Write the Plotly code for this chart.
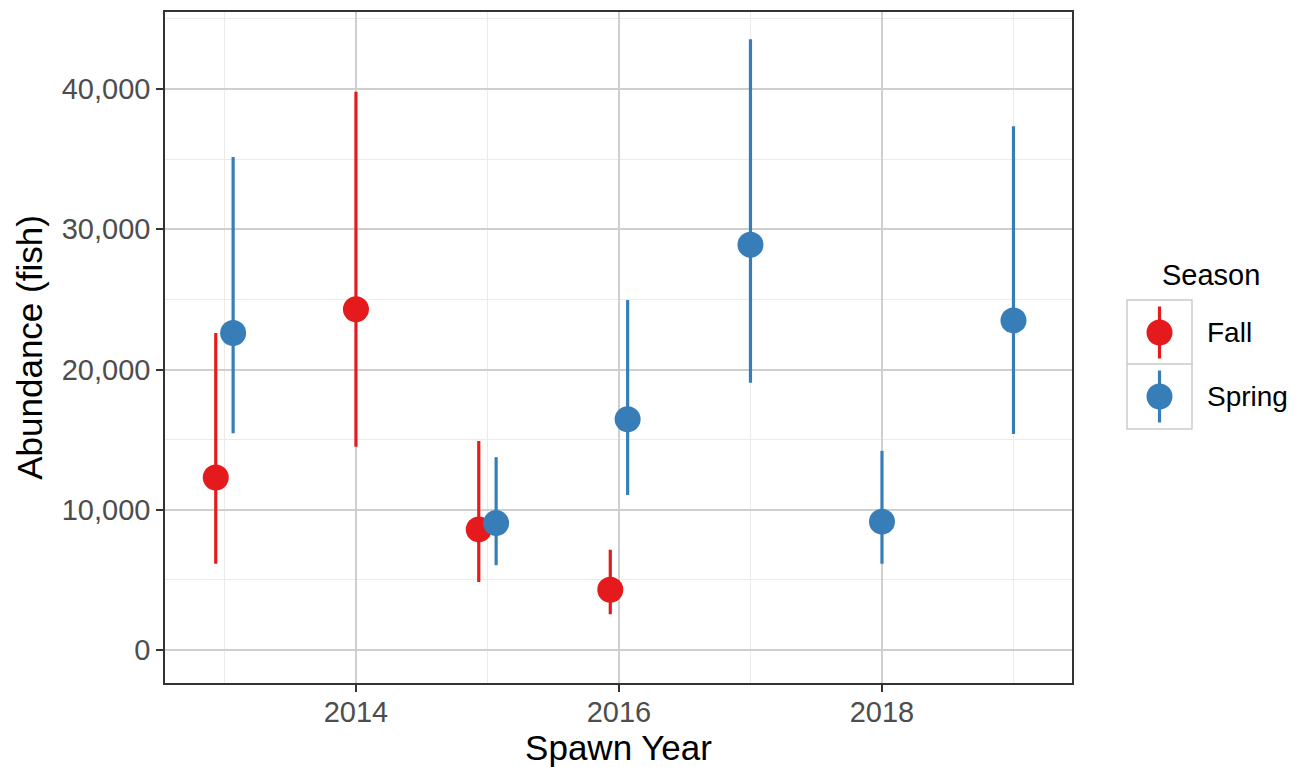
import plotly.graph_objects as go

# ---- data ----
fall_years = [2013, 2014, 2015, 2016]
fall_est = [12300, 24300, 8600, 4300]
fall_lo = [6150, 14500, 4850, 2550]
fall_hi = [22600, 39800, 14900, 7150]

spring_years = [2013, 2015, 2016, 2017, 2018, 2019]
spring_est = [22600, 9050, 16450, 28900, 9150, 23500]
spring_lo = [15450, 6050, 11050, 19050, 6150, 15400]
spring_hi = [35150, 13750, 24950, 43550, 14200, 37350]

x_ticks = [2014, 2016, 2018]
y_ticks = [0, 10000, 20000, 30000, 40000]
y_tick_text = ["0", "10,000", "20,000", "30,000", "40,000"]

seasons = ["Fall", "Spring"]
colors = {"Fall": "#E41A1C", "Spring": "#377EB8"}

# ---- layout geometry ----
W, H = 1299, 767
L, R, T, B = 165, 1072, 12, 683
DODGE = 0.066

both = set(fall_years) & set(spring_years)


def dodge(years, sign):
    return [y + sign * DODGE if y in both else y for y in years]


FONT = "Liberation Sans, Arial, sans-serif"

fig = go.Figure()
for name, yrs, est, lo, hi, sign in [
    ("Fall", fall_years, fall_est, fall_lo, fall_hi, -1),
    ("Spring", spring_years, spring_est, spring_lo, spring_hi, 1),
]:
    fig.add_trace(go.Scatter(
        x=dodge(yrs, sign), y=est, mode="markers", name=name,
        marker=dict(color=colors[name], size=26, line=dict(width=0)),
        error_y=dict(type="data", symmetric=False,
                     array=[h - e for h, e in zip(hi, est)],
                     arrayminus=[e - l for e, l in zip(est, lo)],
                     color=colors[name], thickness=3.2, width=0),
        showlegend=False,
    ))

fig.update_layout(
    width=W, height=H,
    margin=dict(l=L, r=W - R, t=T, b=H - B, autoexpand=False),
    paper_bgcolor="white", plot_bgcolor="white",
    font=dict(family=FONT, color="black"),
)

fig.update_xaxes(
    range=[2012.548, 2019.445], tickvals=x_ticks, ticktext=[str(v) for v in x_ticks],
    showgrid=True, gridcolor="#CFCFCF", gridwidth=2,
    minor=dict(tickvals=[2013, 2015, 2017, 2019], showgrid=True, gridcolor="#EBEBEB", gridwidth=1),
    ticks="outside", ticklen=7, tickwidth=2, tickcolor="#333333",
    tickfont=dict(size=29, color="#4D4D4D", family=FONT), ticklabelstandoff=-5,
    showline=True, linecolor="#333333", linewidth=1.5, mirror=True,
    zeroline=False, automargin=False,
    title=dict(text="Spawn Year", font=dict(size=35, color="black", family=FONT), standoff=10),
)
fig.update_yaxes(
    range=[-2353, 45490], tickvals=y_ticks, ticktext=y_tick_text,
    showgrid=True, gridcolor="#CFCFCF", gridwidth=2,
    minor=dict(tickvals=[5000, 15000, 25000, 35000, 45000], showgrid=True, gridcolor="#EBEBEB", gridwidth=1),
    ticks="outside", ticklen=7, tickwidth=2, tickcolor="#333333",
    tickfont=dict(size=29, color="#4D4D4D", family=FONT),
    showline=True, linecolor="#333333", linewidth=1.5, mirror=True,
    zeroline=False, automargin=False,
    title=dict(text="Abundance (fish)", font=dict(size=35, color="black", family=FONT), standoff=8),
)


# ---- custom legend (ggplot style key boxes) ----
def px(xp):
    return (xp - L) / (R - L)


def py(yp):
    return (B - yp) / (B - T)


shapes = []
annotations = []
annotations.append(dict(text="Season", x=px(1160), y=py(275), xref="paper", yref="paper",
                        xanchor="left", yanchor="middle", showarrow=False,
                        font=dict(size=29, color="black", family=FONT)))
key_top = [300, 364]
key_h = 65
for name, top in zip(seasons, key_top):
    cy = top + key_h / 2
    shapes.append(dict(type="rect", xref="paper", yref="paper",
                       x0=px(1127), x1=px(1192), y0=py(top), y1=py(top + key_h),
                       line=dict(color="#CCCCCC", width=1.5), fillcolor="white", layer="above"))
    shapes.append(dict(type="line", xref="paper", yref="paper",
                       x0=px(1159.5), x1=px(1159.5), y0=py(cy - 26), y1=py(cy + 26),
                       line=dict(color=colors[name], width=3.2), layer="above"))
    r = 13
    shapes.append(dict(type="circle", xref="paper", yref="paper",
                       x0=px(1159.5 - r), x1=px(1159.5 + r), y0=py(cy - r), y1=py(cy + r),
                       line=dict(width=0), fillcolor=colors[name], layer="above"))
    annotations.append(dict(text=name, x=px(1205), y=py(cy), xref="paper", yref="paper",
                            xanchor="left", yanchor="middle", showarrow=False,
                            font=dict(size=28, color="black", family=FONT)))

fig.update_layout(shapes=shapes, annotations=annotations)

fig.write_html(
    "out.html",
    config={"displayModeBar": False},
    post_script="document.body.style.margin='0';document.body.style.overflow='hidden';",
)
